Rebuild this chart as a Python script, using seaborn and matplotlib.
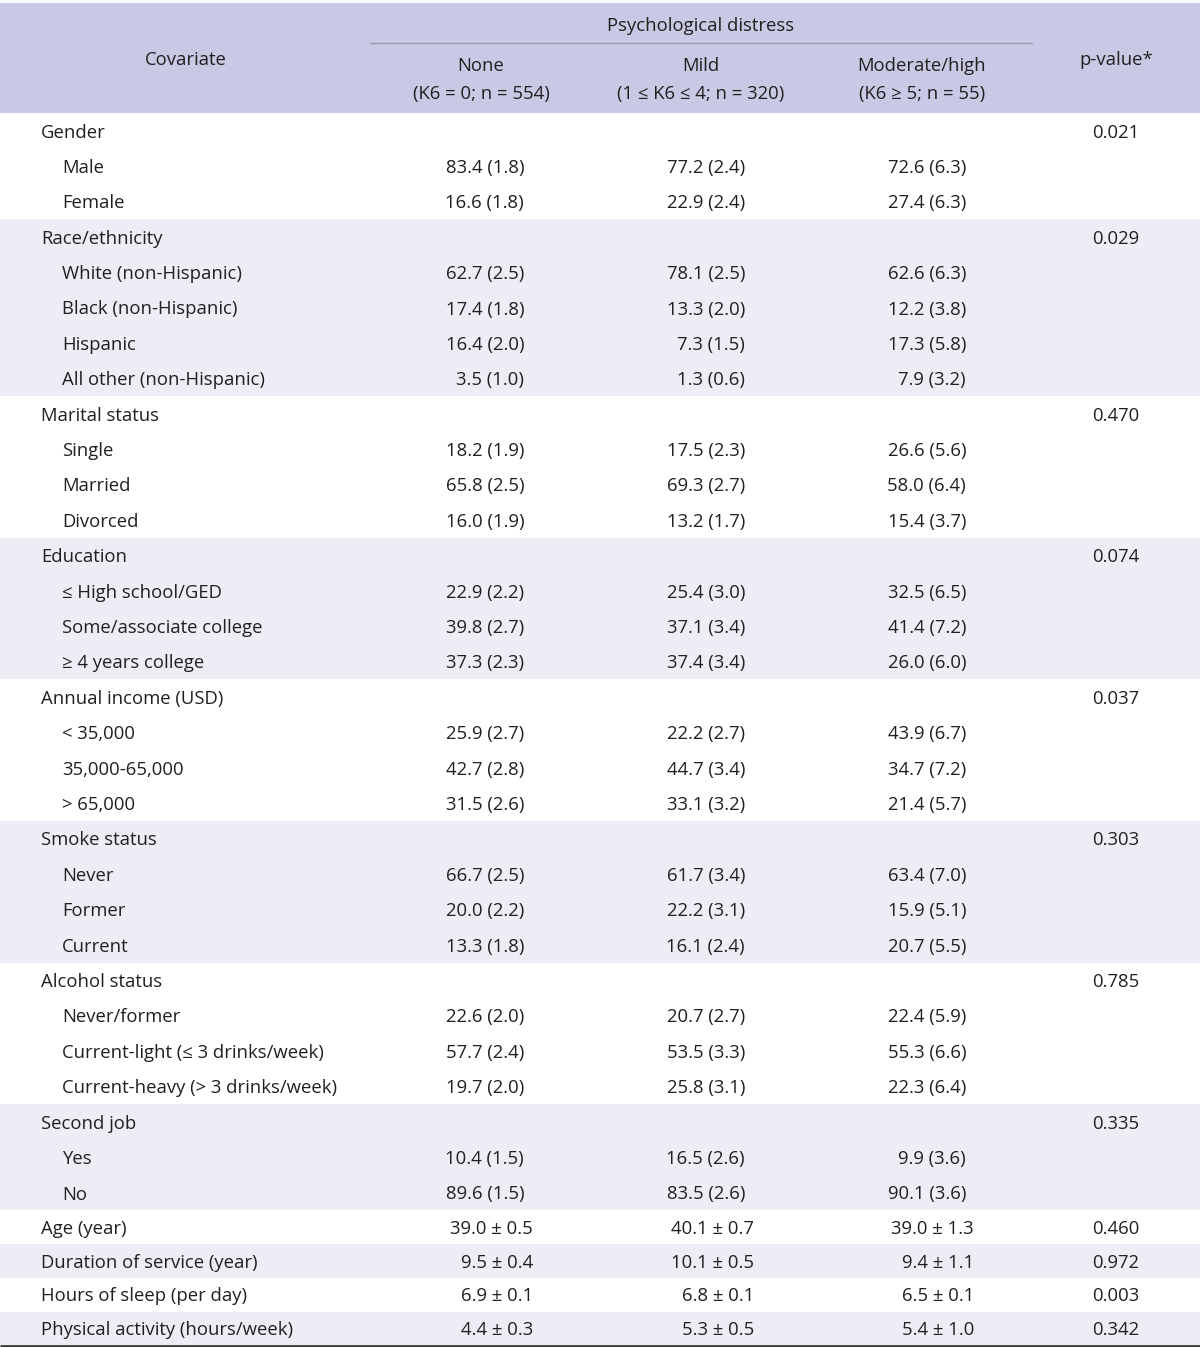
import numpy as np
import seaborn as sns
import matplotlib.pyplot as plt

# table content
group_labels = ["Gender", "Race/ethnicity", "Marital status", "Education",
                "Annual income (USD)", "Smoke status", "Alcohol status", "Second job"]
group_pvalues = ["0.021", "0.029", "0.470", "0.074", "0.037", "0.303", "0.785", "0.335"]
sub_labels = [
    ["Male", "Female"],
    ["White (non-Hispanic)", "Black (non-Hispanic)", "Hispanic", "All other (non-Hispanic)"],
    ["Single", "Married", "Divorced"],
    ["\u2264 High school/GED", "Some/associate college", "\u2265 4 years college"],
    ["< 35,000", "35,000-65,000", "> 65,000"],
    ["Never", "Former", "Current"],
    ["Never/former", "Current-light (\u2264 3 drinks/week)", "Current-heavy (> 3 drinks/week)"],
    ["Yes", "No"],
]
pct_none = [83.4, 16.6, 62.7, 17.4, 16.4, 3.5, 18.2, 65.8, 16.0, 22.9, 39.8, 37.3,
            25.9, 42.7, 31.5, 66.7, 20.0, 13.3, 22.6, 57.7, 19.7, 10.4, 89.6]
se_none = [1.8, 1.8, 2.5, 1.8, 2.0, 1.0, 1.9, 2.5, 1.9, 2.2, 2.7, 2.3,
           2.7, 2.8, 2.6, 2.5, 2.2, 1.8, 2.0, 2.4, 2.0, 1.5, 1.5]
pct_mild = [77.2, 22.9, 78.1, 13.3, 7.3, 1.3, 17.5, 69.3, 13.2, 25.4, 37.1, 37.4,
            22.2, 44.7, 33.1, 61.7, 22.2, 16.1, 20.7, 53.5, 25.8, 16.5, 83.5]
se_mild = [2.4, 2.4, 2.5, 2.0, 1.5, 0.6, 2.3, 2.7, 1.7, 3.0, 3.4, 3.4,
           2.7, 3.4, 3.2, 3.4, 3.1, 2.4, 2.7, 3.3, 3.1, 2.6, 2.6]
pct_mod = [72.6, 27.4, 62.6, 12.2, 17.3, 7.9, 26.6, 58.0, 15.4, 32.5, 41.4, 26.0,
           43.9, 34.7, 21.4, 63.4, 15.9, 20.7, 22.4, 55.3, 22.3, 9.9, 90.1]
se_mod = [6.3, 6.3, 6.3, 3.8, 5.8, 3.2, 5.6, 6.4, 3.7, 6.5, 7.2, 6.0,
          6.7, 7.2, 5.7, 7.0, 5.1, 5.5, 5.9, 6.6, 6.4, 3.6, 3.6]

cont_labels = ["Age (year)", "Duration of service (year)", "Hours of sleep (per day)",
               "Physical activity (hours/week)"]
mean_none = [39.0, 9.5, 6.9, 4.4]
sd_none = [0.5, 0.4, 0.1, 0.3]
mean_mild = [40.1, 10.1, 6.8, 5.3]
sd_mild = [0.7, 0.5, 0.1, 0.5]
mean_mod = [39.0, 9.4, 6.5, 5.4]
sd_mod = [1.3, 1.1, 0.1, 1.0]
cont_pvalues = ["0.460", "0.972", "0.003", "0.342"]

col_titles = ["None", "Mild", "Moderate/high"]
col_subtitles = ["(K6 = 0; n = 554)", "(1 \u2264 K6 \u2264 4; n = 320)", "(K6 \u2265 5; n = 55)"]

sns.set_theme(style="white")
plt.rcParams['font.family'] = ['Open Sans', 'DejaVu Sans']

HEAD = "#c8c9e5"
BAND = "#ededf6"
INK = "#231f20"
FS = 13.3


def txt(x, y, s, ha='left'):
    # y is the row centre; put the baseline half a cap height below it
    ax.text(x, y + 6.8, s, ha=ha, va='baseline', fontsize=FS, color=INK)


fig = plt.figure(figsize=(12, 13.47), dpi=100)
ax = fig.add_axes([0, 0, 1, 1])
ax.set_xlim(0, 1200)
ax.set_ylim(1347, 0)
ax.axis('off')

top = 113
row_h = 35.4
cont_h = 33.7
col_x = [481, 701, 922]
pct_right = [524, 745, 966]
pm_right = [533, 754, 974]
p_x = 1116

# header
ax.axhspan(3, top, color=HEAD, lw=0)
txt(186, 58, "Covariate", 'center')
txt(701, 24, "Psychological distress", 'center')
ax.plot([370, 1032], [43, 43], color="#9a9ab0", lw=1)
for x, t, s in zip(col_x, col_titles, col_subtitles):
    txt(x, 64, t, 'center')
    txt(x, 92, s, 'center')
txt(p_x, 58, "p-value*", 'center')

y = top
k = 0
for g, (glab, gp, subs) in enumerate(zip(group_labels, group_pvalues, sub_labels)):
    n = len(subs) + 1
    if g % 2 == 1:
        ax.axhspan(y, y + n * row_h, color=BAND, lw=0)
    txt(41, y + row_h / 2, glab)
    txt(p_x, y + row_h / 2, gp, 'center')
    y += row_h
    for lab in subs:
        yc = y + row_h / 2
        txt(62, yc, lab)
        vals = [(pct_none[k], se_none[k]), (pct_mild[k], se_mild[k]), (pct_mod[k], se_mod[k])]
        for xr, (v, e) in zip(pct_right, vals):
            txt(xr, yc, f"{v:.1f} ({e:.1f})", 'right')
        y += row_h
        k += 1

for i, lab in enumerate(cont_labels):
    if i % 2 == 1:
        ax.axhspan(y, y + cont_h, color=BAND, lw=0)
    yc = y + cont_h / 2
    txt(41, yc, lab)
    vals = [(mean_none[i], sd_none[i]), (mean_mild[i], sd_mild[i]), (mean_mod[i], sd_mod[i])]
    for xr, (v, e) in zip(pm_right, vals):
        txt(xr, yc, f"{v:.1f} \u00b1 {e:.1f}", 'right')
    txt(p_x, yc, cont_pvalues[i], 'center')
    y += cont_h

ax.plot([0, 1200], [y + 0.5, y + 0.5], color="#3c3c3c", lw=2, solid_capstyle='butt')

fig.savefig("out.png", dpi=100)
